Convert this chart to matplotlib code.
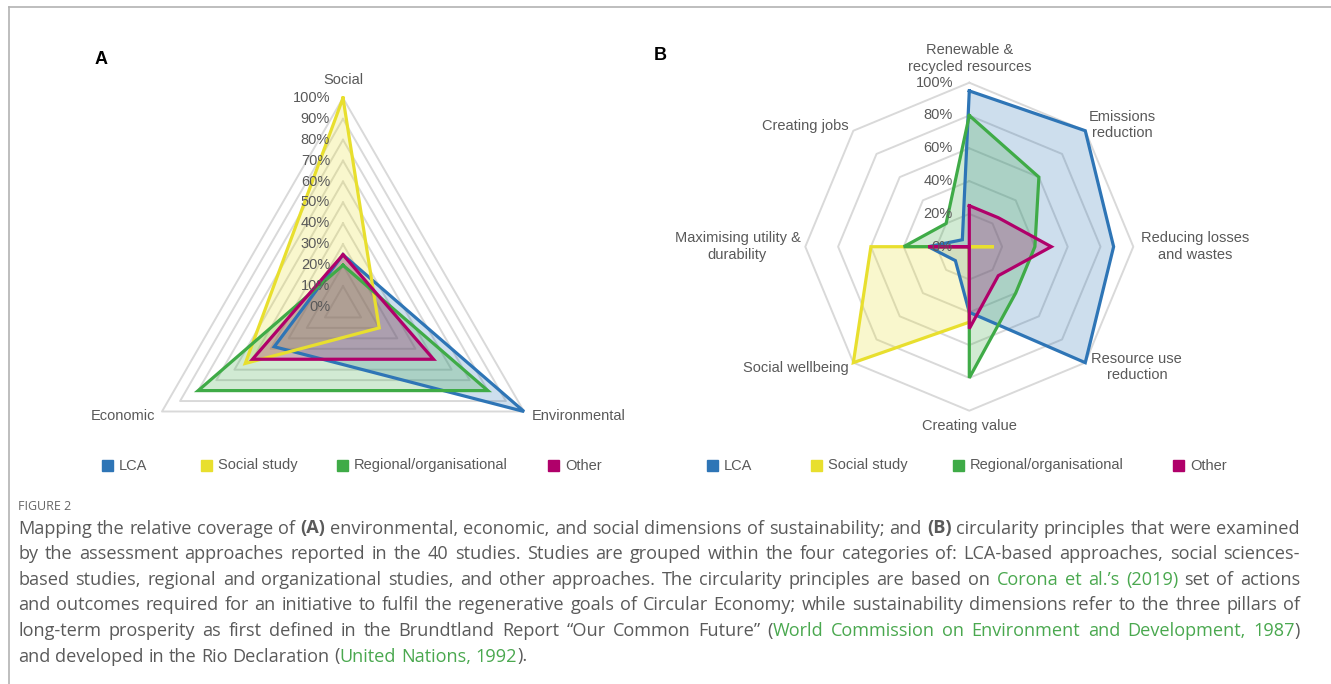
import numpy as np
import matplotlib
matplotlib.use('Agg')
import matplotlib.pyplot as plt
from matplotlib import font_manager
from matplotlib.patches import Rectangle
from matplotlib.lines import Line2D

# Panel A: sustainability dimensions (% of studies)
dims_labels = ['Social', 'Environmental', 'Economic']
dims_lca = [25, 100, 38]
dims_social = [100, 20, 54]
dims_regional = [20, 80, 80]
dims_other = [25, 50, 50]
dims_ticks = [0, 10, 20, 30, 40, 50, 60, 70, 80, 90, 100]

# Panel B: circularity principles (% of studies)
circ_labels = ['Renewable &\nrecycled resources', 'Emissions\nreduction', 'Reducing losses\nand wastes',
               'Resource use\nreduction', 'Creating value', 'Social wellbeing',
               'Maximising utility &\ndurability', 'Creating jobs']
circ_lca = [95, 100, 88, 100, 40, 12, 25, 6]
circ_social = [0, 0, 15, 0, 46, 100, 60, 0]
circ_regional = [80, 60, 40, 40, 80, 0, 40, 20]
circ_other = [25, 25, 50, 25, 50, 0, 25, 0]
circ_ticks = [0, 20, 40, 60, 80, 100]

series_names = ['LCA', 'Social study', 'Regional/organisational', 'Other']
series_colors = ['#2e75b6', '#e8df2e', '#3fab47', '#b0006a']

W, H = 1331, 684
GRID = '#d9d9d9'
TXT = '#595959'
CHART_FONT = 'Liberation Sans'

fig = plt.figure(figsize=(W / 100, H / 100), dpi=100)


def px(x, y):
    return x / W, 1 - y / H


def has_font(name):
    try:
        font_manager.findfont(name, fallback_to_default=False)
        return True
    except ValueError:
        return False


def radar_axes(cx, cy, R, half_w, half_h):
    ax = fig.add_axes([(cx - half_w) / W, 1 - (cy + half_h) / H, 2 * half_w / W, 2 * half_h / H])
    ax.set_xlim(-half_w / R, half_w / R)
    ax.set_ylim(-half_h / R, half_h / R)
    ax.axis('off')
    return ax


def to_xy(values, n):
    ang = np.deg2rad(90 - 360 / n * np.arange(n))
    v = np.asarray(values, float) / 100
    x, y = v * np.cos(ang), v * np.sin(ang)
    return np.append(x, x[0]), np.append(y, y[0])


def draw_radar(ax, series, ticks, n, tick_dx):
    for t in ticks[1:]:
        gx, gy = to_xy([t] * n, n)
        ax.plot(gx, gy, color=GRID, lw=1.4, zorder=1)
    for vals, col in zip(series, series_colors):
        sx, sy = to_xy(vals, n)
        ax.fill(sx, sy, color=col, alpha=0.24, lw=0, zorder=2)
        ax.plot(sx, sy, color=col, lw=2.3, zorder=3, solid_joinstyle='miter')
    for t in ticks:
        ax.text(tick_dx, t / 100, f'{t}%', ha='right', va='center', fontsize=10.5,
                color=TXT, family=CHART_FONT, zorder=4)


# ---- panel A
axA = radar_axes(343, 307, 209, 250, 240)
draw_radar(axA, [dims_lca, dims_social, dims_regional, dims_other], dims_ticks, 3, -0.062)
posA = [(0, 1.086, 'center'), (0.905, -0.52, 'left'), (-0.9, -0.52, 'right')]
for lab, (x, y, ha) in zip(dims_labels, posA):
    axA.text(x, y, lab, ha=ha, va='center', fontsize=10.5, color=TXT, family=CHART_FONT)

# ---- panel B
axB = radar_axes(969.3, 246.7, 164, 300, 225)
draw_radar(axB, [circ_lca, circ_social, circ_regional, circ_other], circ_ticks, 8, -0.1)
posB = [(0, 1.148, 'center'), (0.93, 0.742, 'center'), (1.047, 0, 'left'), (0.745, -0.733, 'left'),
        (0, -1.093, 'center'), (-0.734, -0.74, 'right'), (-1.03, 0, 'right'), (-0.734, 0.736, 'right')]
for lab, (x, y, ha) in zip(circ_labels, posB):
    axB.text(x, y, lab, ha=ha, va='center', ma='center', fontsize=10.5, color=TXT,
             family=CHART_FONT, linespacing=1.25)

# panel letters
fig.text(*px(101, 59), 'A', ha='center', va='center', fontsize=13, weight='bold', family=CHART_FONT)
fig.text(*px(660, 56), 'B', ha='center', va='center', fontsize=13, weight='bold', family=CHART_FONT)

# legends
legend_x = [[102, 201, 337, 548], [707, 811, 953, 1173]]
for xs in legend_x:
    for x, name, col in zip(xs, series_names, series_colors):
        fig.add_artist(Rectangle(px(x, 471), 11 / W, 11 / H, color=col, transform=fig.transFigure))
        fig.text(*px(x + 17, 465.5), name, ha='left', va='center', fontsize=10.5, color=TXT,
                 family=CHART_FONT)

# frame lines
fig.add_artist(Line2D([9 / W, 1], [1 - 7 / H, 1 - 7 / H], color='#b3b3b3', lw=1.2,
                      transform=fig.transFigure))
fig.add_artist(Line2D([9 / W, 9 / W], [0, 1 - 7 / H], color='#b3b3b3', lw=1.2,
                      transform=fig.transFigure))

# ---- caption
CAP_FONT = 'Liberation Sans Narrow' if has_font('Liberation Sans Narrow') else 'Open Sans'
CAP_COL = '#5a5a5a'
LINK_COL = '#4aa84f'
fig.text(*px(18, 510), 'FIGURE 2', ha='left', va='baseline', fontsize=9, color='#666666',
         family=CAP_FONT)

caption = [
    [('Mapping the relative coverage of ', 'n'), ('(A)', 'b'),
     (' environmental, economic, and social dimensions of sustainability; and ', 'n'), ('(B)', 'b'),
     (' circularity principles that were examined', 'n')],
    [('by the assessment approaches reported in the 40 studies. Studies are grouped within the four '
      'categories of: LCA-based approaches, social sciences-', 'n')],
    [('based studies, regional and organizational studies, and other approaches. The circularity '
      'principles are based on ', 'n'), ('Corona et al.’s (2019)', 'g'), (' set of actions', 'n')],
    [('and outcomes required for an initiative to fulfil the regenerative goals of Circular Economy; '
      'while sustainability dimensions refer to the three pillars of', 'n')],
    [('long-term prosperity as first defined in the Brundtland Report “Our Common Future” (', 'n'),
     ('World Commission on Environment and Development, 1987', 'g'), (')', 'n')],
    [('and developed in the Rio Declaration (', 'n'), ('United Nations, 1992', 'g'), (').', 'n')],
]
styles = {'n': dict(color=CAP_COL), 'b': dict(color=CAP_COL, weight='bold'), 'g': dict(color=LINK_COL)}

renderer = fig.canvas.get_renderer()


def text_w(s, size, st):
    t = fig.text(0, 0, s, fontsize=size, family=CAP_FONT, **styles[st])
    w = t.get_window_extent(renderer).width
    t.remove()
    return w


def split_words(segs):
    words, new_word = [], True
    for txt, st in segs:
        for k, p in enumerate(txt.split(' ')):
            if k > 0:
                new_word = True
            if p == '':
                continue
            if new_word:
                words.append([(p, st)])
                new_word = False
            else:
                words[-1].append((p, st))
    return words


left, right = 18, 1300
size = 13.5
space = text_w('x x', size, 'n') - text_w('xx', size, 'n')
natural = []
for segs in caption:
    ws = split_words(segs)
    natural.append(sum(text_w(p, size, st) for w in ws for p, st in w) + space * (len(ws) - 1))
size = size * min(1.0, (right - left) * 0.995 / max(natural))
space = text_w('x x', size, 'n') - text_w('xx', size, 'n')

for i, segs in enumerate(caption):
    ws = split_words(segs)
    widths = [[text_w(p, size, st) for p, st in w] for w in ws]
    total = sum(sum(w) for w in widths)
    justify = i < len(caption) - 1
    gap = (right - left - total) / (len(ws) - 1) if justify else space
    x = left
    base = 533.5 + 25.6 * i
    for w, wl in zip(ws, widths):
        for (p, st), pw in zip(w, wl):
            fig.text(*px(x, base), p, ha='left', va='baseline', fontsize=size, family=CAP_FONT,
                     **styles[st])
            x += pw
        x += gap

fig.savefig('out.png', dpi=100)
